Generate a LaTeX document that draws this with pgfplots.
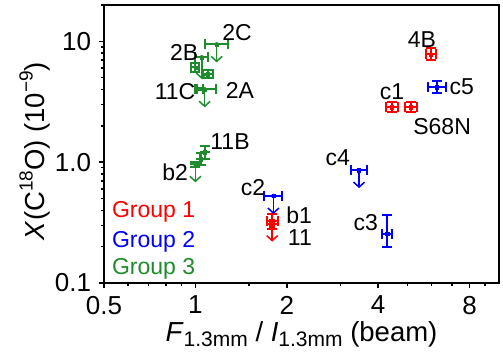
\documentclass[border=0pt]{standalone}
\usepackage{fontspec}
\setmainfont{Liberation Sans}
\usepackage{pgfplots}
\pgfplotsset{compat=1.18}
\usetikzlibrary{arrows.meta}
\definecolor{cR}{RGB}{255,0,0}
\definecolor{cB}{RGB}{0,0,255}
\definecolor{cG}{RGB}{30,140,45}
\newcommand\sub[1]{\raisebox{-0.18em}{\fontsize{21}{24}\selectfont #1}}
\newcommand\super[1]{\raisebox{0.45em}{\fontsize{19}{22}\selectfont #1}}
\pgfplotsset{
  pts/.style={only marks, mark=square*, mark size=1.6pt, color=#1,
    error bars/.cd, x dir=both, y dir=both, x explicit, y explicit,
    error bar style={line width=2.2pt, color=#1},
    error mark options={rotate=90, line width=2pt, mark size=5pt, color=#1}},
  ul/.style={only marks, mark=none, color=#1,
    error bars/.cd, y dir=minus, y explicit relative, error mark=none,
    error bar style={line width=1.5pt, color=#1, -{Straight Barb[length=5pt,width=11pt,line width=1.5pt]}}},
}
\begin{document}
\fontsize{23}{27}\selectfont
\begin{tikzpicture}
\begin{axis}[
  scale only axis, width=395pt, height=278pt,
  xmode=log, ymode=log,
  xmin=0.5, xmax=10, ymin=0.1, ymax=20,
  xtick={0.5,1,2,4,8}, xticklabels={0.5,1,2,4,8},
  minor xtick={0.6,0.7,0.8,0.9,1.5,3,5,6,7,9},
  ytick={0.1,1,10}, yticklabels={0.1,1.0,10},
  minor ytick={0.2,0.3,0.4,0.5,0.6,0.7,0.8,0.9,2,3,4,5,6,7,8,9,20},
  tick align=outside, xtick pos=left, ytick pos=left,
  major tick length=5pt, minor tick length=3pt,
  every tick/.style={line width=1.5pt, black},
  axis line style={line width=2pt},
  tick label style={font=\fontsize{26}{30}\selectfont},
  xlabel={\textit{F}\sub{1.3mm} / \textit{I}\sub{1.3mm} (beam)},
  ylabel={\textit{X}(C\super{18}O) (10\super{−9})},
  label style={font=\fontsize{27.5}{31}\selectfont},
  xlabel style={at={(axis description cs:0.5,0)}, anchor=base, yshift=-59pt},
  ylabel style={at={(axis description cs:0,0.475)}, anchor=base, yshift=59pt},
  clip=false,
]
% Group 1 (red)
\addplot[pts=cR] coordinates {
  (5.97,7.81) += (0.23,0.95) -= (0.22,0.85)
  (4.44,2.85) += (0.21,0.28) -= (0.20,0.26)
  (5.13,2.85) += (0.24,0.28) -= (0.23,0.26)
  (1.79,0.325) += (0.086,0.047) -= (0.063,0.046)
};
\addplot[pts=cR] coordinates {
  (1.79,0.31) += (0.03,0) -= (0.03,0)
};
\addplot[ul=cR] coordinates {
  (1.79,0.31) -= (0,0.29)
};
% Group 2 (blue)
\addplot[pts=cB] coordinates {
  (6.24,4.17) += (0.43,0.50) -= (0.41,0.45)
  (4.28,0.254) += (0.16,0.111) -= (0.16,0.056)
  (3.46,0.859) += (0.21,0) -= (0.20,0)
  (1.807,0.524) += (0.128,0) -= (0.118,0)
};
\addplot[ul=cB] coordinates {
  (3.46,0.859) -= (0,0.29)
  (1.807,0.524) -= (0,0.29)
};
% Group 3 (green)
\addplot[pts=cG] coordinates {
  (1.175,9.44) += (0.102,0) -= (0.102,0)
  (1.05,7.38) += (0.048,0) -= (0.05,0)
  (1.0,6.10) += (0.03,0.5) -= (0.03,0.5)
  (1.10,5.34) += (0.04,0.4) -= (0.044,0.4)
  (1.073,4.01) += (0.10,0) -= (0.063,0)
  (1.03,4.05) += (0.03,0) -= (0.03,0)
  (1.073,1.21) += (0,0.15) -= (0,0.15)
  (1.04,1.06) += (0,0.12) -= (0,0.12)
  (1.0,0.96) += (0,0.05) -= (0,0.05)
};
\addplot[ul=cG] coordinates {
  (1.175,9.44) -= (0,0.29)
  (1.05,7.38) -= (0,0.34)
  (1.073,4.01) -= (0,0.29)
  (1.0,0.96) -= (0,0.29)
};
% point labels
\begin{scope}[every node/.style={inner sep=0pt, font=\fontsize{23}{27}\selectfont}]
\node at (rel axis cs:0.337,0.899) {2C};
\node at (rel axis cs:0.203,0.831) {2B};
\node at (rel axis cs:0.180,0.687) {11C};
\node at (rel axis cs:0.344,0.694) {2A};
\node at (rel axis cs:0.319,0.507) {11B};
\node at (rel axis cs:0.180,0.399) {b2};
\node at (rel axis cs:0.377,0.345) {c2};
\node at (rel axis cs:0.494,0.245) {b1};
\node at (rel axis cs:0.496,0.162) {11};
\node at (rel axis cs:0.663,0.216) {c3};
\node at (rel axis cs:0.592,0.450) {c4};
\node at (rel axis cs:0.906,0.705) {c5};
\node at (rel axis cs:0.805,0.874) {4B};
\node at (rel axis cs:0.729,0.687) {c1};
\node at (rel axis cs:0.856,0.561) {S68N};
\node[anchor=base west, text=cR] at (rel axis cs:0.020,0.234) {Group 1};
\node[anchor=base west, text=cB] at (rel axis cs:0.020,0.129) {Group 2};
\node[anchor=base west, text=cG] at (rel axis cs:0.020,0.029) {Group 3};
\end{scope}
\end{axis}
\pgfresetboundingbox
\path (-104pt,-69pt) rectangle (399pt,283pt);
\end{tikzpicture}
\end{document}
